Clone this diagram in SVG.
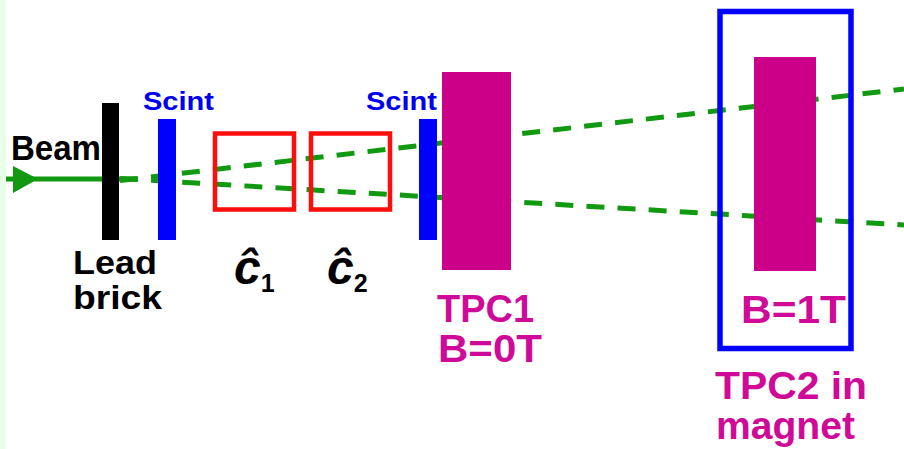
<svg xmlns="http://www.w3.org/2000/svg" width="904" height="449" viewBox="0 0 904 449">
<style>
text{font-family:"Liberation Sans",Arial,sans-serif;font-weight:700}
.k{fill:#000}.b{fill:#0000f0}.m{fill:#cf0a98}
.bar{fill:#0000ff}.tpc{fill:#cc0088}
.red{fill:none;stroke:#ff0d0d;stroke-width:4.5}
.dash{fill:none;stroke:#119911;stroke-width:5;stroke-dasharray:18 13.150}
</style>
<rect width="904" height="449" fill="#fff"/>
<rect width="6" height="449" fill="#e6ffe6"/>
<g id="connectors">
<path d="M6 179H137" fill="none" stroke="#119911" stroke-width="5"/>
<path class="dash" d="M120 180.500L904 89"/>
<path class="dash" d="M120 178.500L904 225"/>
<polygon points="13,166 38,179 13,193" fill="#119911"/>
</g>
<g id="beam"><text class="k" x="11" y="160" font-size="35" textLength="90" lengthAdjust="spacingAndGlyphs">Beam</text></g>
<g id="lead-brick"><rect x="102" y="103" width="17" height="137" fill="#000"/>
<text class="k" font-size="30" textLength="84" lengthAdjust="spacingAndGlyphs" transform="translate(73 274) scale(1 1.12)">Lead</text>
<text class="k" font-size="30" textLength="89" lengthAdjust="spacingAndGlyphs" transform="translate(73 308.500) scale(1 1.12)">brick</text></g>
<g id="scint1"><rect class="bar" x="158" y="119" width="18" height="121"/>
<text class="b" x="143" y="110" font-size="26" textLength="71" lengthAdjust="spacingAndGlyphs">Scint</text></g>
<g id="c1"><rect class="red" x="215" y="133.500" width="79" height="76"/>
<text class="k" x="234" y="284" font-size="48" font-style="italic">ĉ<tspan font-size="25" font-style="normal" dy="8">1</tspan></text></g>
<g id="c2"><rect class="red" x="311" y="133.500" width="79" height="76"/>
<text class="k" x="327" y="284" font-size="48" font-style="italic">ĉ<tspan font-size="25" font-style="normal" dy="8">2</tspan></text></g>
<g id="scint2"><rect class="bar" x="419" y="119" width="18" height="121"/>
<text class="b" x="366" y="110" font-size="26" textLength="71" lengthAdjust="spacingAndGlyphs">Scint</text></g>
<g id="tpc1"><rect class="tpc" x="442" y="72" width="69" height="198"/>
<text class="m" font-size="34" textLength="97" lengthAdjust="spacingAndGlyphs" transform="translate(437 322) scale(1 1.12)">TPC1</text>
<text class="m" font-size="34" textLength="104" lengthAdjust="spacingAndGlyphs" transform="translate(438 362) scale(1 1.12)">B=0T</text></g>
<g id="tpc2"><rect x="720" y="11.500" width="131" height="337" fill="none" stroke="#0000ff" stroke-width="5.500"/>
<rect class="tpc" x="754" y="57" width="62" height="214"/>
<text class="m" font-size="34" textLength="105" lengthAdjust="spacingAndGlyphs" transform="translate(741 323) scale(1 1.15)">B=1T</text>
<text class="m" font-size="34" textLength="152" lengthAdjust="spacingAndGlyphs" transform="translate(715 399) scale(1 1.12)">TPC2 in</text>
<text class="m" font-size="34" textLength="139" lengthAdjust="spacingAndGlyphs" transform="translate(716 439) scale(1 1.12)">magnet</text></g>
</svg>
